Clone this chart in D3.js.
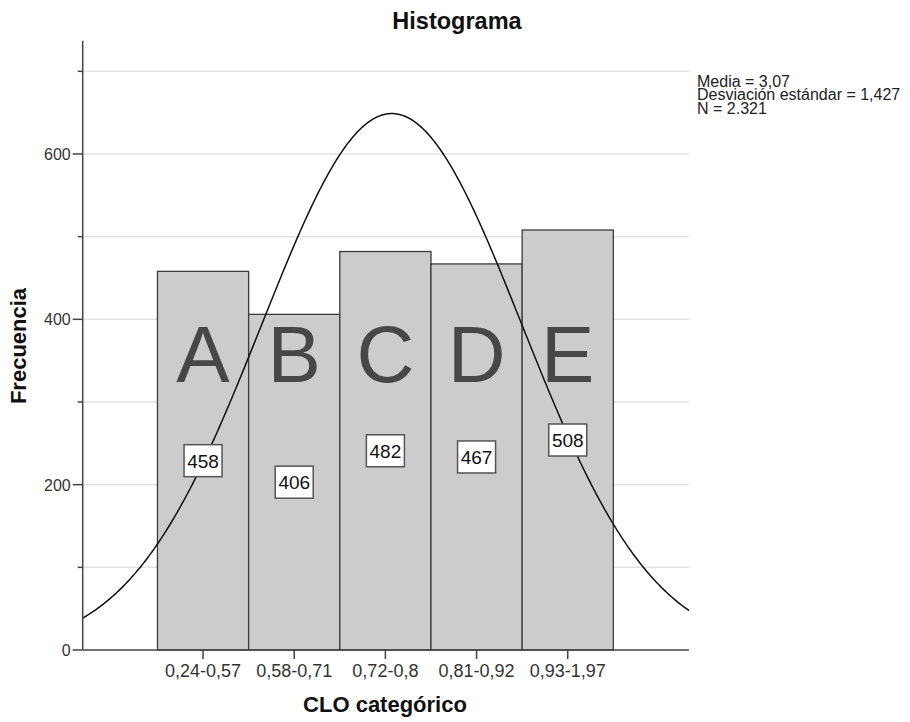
<!DOCTYPE html>
<html>
<head>
<meta charset="utf-8">
<script src="https://cdn.jsdelivr.net/npm/d3@7"></script>
<style>
  body { margin: 0; background: #fff; }
  svg text { font-family: "Liberation Sans", Arial, sans-serif; }
</style>
</head>
<body>
<svg id="chart"></svg>
<script>
// datos del histograma
const categorias = ["0,24-0,57", "0,58-0,71", "0,72-0,8", "0,81-0,92", "0,93-1,97"];
const letras = ["A", "B", "C", "D", "E"];
const frecuencias = [458, 406, 482, 467, 508];
const yTicks = [0, 100, 200, 300, 400, 500, 600, 700];
const yLabels = [0, 200, 400, 600];
const stats = { media: 3.07, sd: 1.427, n: 2321 };
const leyenda = ["Media = 3,07", "Desviación estándar = 1,427", "N = 2.321"];

const svgWidth = 910, svgHeight = 722;
const plot = { left: 82.7, right: 689, top: 40.7, bottom: 650 };

const svg = d3.select("#chart")
  .attr("width", svgWidth)
  .attr("height", svgHeight);

// categoría i (1..5) en el eje continuo
const x = d3.scaleLinear()
  .domain([-0.32, 6.33])
  .range([plot.left, plot.right]);

const y = d3.scaleLinear()
  .domain([0, 737])
  .range([plot.bottom, plot.top]);

// grid
svg.append("g")
  .selectAll("line")
  .data(yTicks.filter(d => d > 0))
  .enter()
  .append("line")
  .attr("x1", plot.left)
  .attr("x2", plot.right)
  .attr("y1", d => y(d))
  .attr("y2", d => y(d))
  .attr("stroke", "#e2e2e2")
  .attr("stroke-width", 1.5);

// barras
svg.append("g")
  .selectAll("rect")
  .data(frecuencias)
  .enter()
  .append("rect")
  .attr("x", (d, i) => x(i + 0.5))
  .attr("y", d => y(d))
  .attr("width", x(1) - x(0))
  .attr("height", d => y(0) - y(d))
  .attr("fill", "#cccccc")
  .attr("stroke", "#3c3c3c")
  .attr("stroke-width", 1.3);

// letras grandes
svg.append("g")
  .selectAll("text")
  .data(letras)
  .enter()
  .append("text")
  .attr("x", (d, i) => x(i + 1))
  .attr("y", 382)
  .attr("text-anchor", "middle")
  .style("font-size", "80px")
  .style("fill", "#474747")
  .text(d => d);

// curva normal
const pico = stats.n / (stats.sd * Math.sqrt(2 * Math.PI));
const xs = d3.range(0, 401).map(k => -0.32 + k * (6.33 + 0.32) / 400);
const curva = d3.line()
  .x(d => x(d))
  .y(d => y(pico * Math.exp(-0.5 * Math.pow((d - stats.media) / stats.sd, 2))));

svg.append("path")
  .datum(xs)
  .attr("d", curva)
  .attr("fill", "none")
  .attr("stroke", "#111")
  .attr("stroke-width", 1.5);

// etiquetas de valor
const etiquetas = svg.append("g")
  .selectAll("g")
  .data(frecuencias)
  .enter()
  .append("g")
  .attr("transform", (d, i) => `translate(${x(i + 1)},${y(d / 2)})`);

etiquetas.append("rect")
  .attr("x", -19)
  .attr("y", -16)
  .attr("width", 38)
  .attr("height", 32)
  .attr("fill", "#fff")
  .attr("stroke", "#555")
  .attr("stroke-width", 1.5);

etiquetas.append("text")
  .attr("text-anchor", "middle")
  .attr("y", 7)
  .style("font-size", "19px")
  .style("fill", "#111")
  .text(d => d);

// eje y
const ejeY = svg.append("g");
ejeY.append("line")
  .attr("x1", plot.left).attr("x2", plot.left)
  .attr("y1", plot.top).attr("y2", plot.bottom)
  .attr("stroke", "#444").attr("stroke-width", 1.5);
ejeY.selectAll(".tick")
  .data(yTicks)
  .enter()
  .append("line")
  .attr("x1", d => yLabels.includes(d) ? plot.left - 10 : plot.left - 5)
  .attr("x2", plot.left)
  .attr("y1", d => y(d))
  .attr("y2", d => y(d))
  .attr("stroke", "#444")
  .attr("stroke-width", 1.5);
ejeY.selectAll("text")
  .data(yLabels)
  .enter()
  .append("text")
  .attr("x", plot.left - 12)
  .attr("y", d => y(d) + 6)
  .attr("text-anchor", "end")
  .style("font-size", "16px")
  .style("fill", "#333")
  .text(d => d);

// eje x
const ejeX = svg.append("g");
ejeX.append("line")
  .attr("x1", plot.left).attr("x2", plot.right)
  .attr("y1", plot.bottom).attr("y2", plot.bottom)
  .attr("stroke", "#444").attr("stroke-width", 1.5);
ejeX.selectAll(".tick")
  .data(categorias)
  .enter()
  .append("line")
  .attr("x1", (d, i) => x(i + 1))
  .attr("x2", (d, i) => x(i + 1))
  .attr("y1", plot.bottom)
  .attr("y2", plot.bottom + 9)
  .attr("stroke", "#444")
  .attr("stroke-width", 1.5);
ejeX.selectAll("text")
  .data(categorias)
  .enter()
  .append("text")
  .attr("x", (d, i) => x(i + 1))
  .attr("y", 677)
  .attr("text-anchor", "middle")
  .style("font-size", "18px")
  .style("fill", "#333")
  .text(d => d);

// títulos
svg.append("text")
  .attr("x", 457)
  .attr("y", 29)
  .attr("text-anchor", "middle")
  .style("font-size", "23.5px")
  .style("font-weight", "bold")
  .style("fill", "#111")
  .text("Histograma");

svg.append("text")
  .attr("x", 385)
  .attr("y", 712)
  .attr("text-anchor", "middle")
  .style("font-size", "22px")
  .style("font-weight", "bold")
  .style("fill", "#111")
  .text("CLO categórico");

svg.append("text")
  .attr("transform", `translate(26,346) rotate(-90)`)
  .attr("text-anchor", "middle")
  .style("font-size", "22px")
  .style("font-weight", "bold")
  .style("fill", "#111")
  .text("Frecuencia");

// leyenda
svg.append("g")
  .selectAll("text")
  .data(leyenda)
  .enter()
  .append("text")
  .attr("x", 697)
  .attr("y", (d, i) => 86.5 + i * 13.7)
  .style("font-size", "16px")
  .style("fill", "#222")
  .text(d => d);
</script>
</body>
</html>
